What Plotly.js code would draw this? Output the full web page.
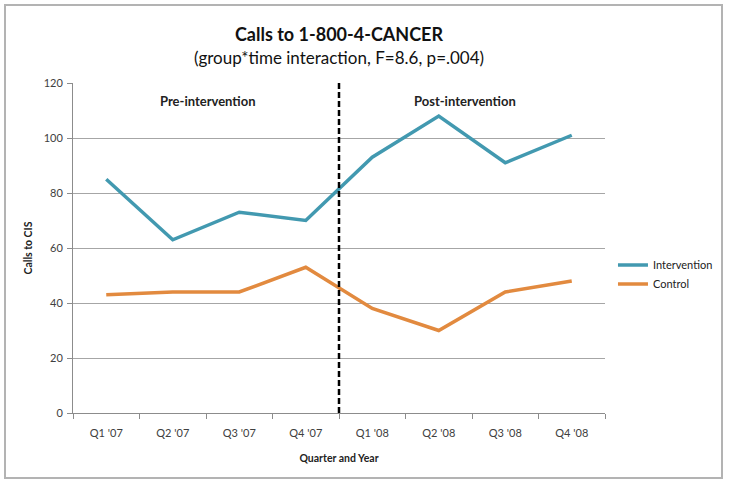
<!DOCTYPE html>
<html>
<head>
<meta charset="utf-8">
<script src="https://cdn.plot.ly/plotly-3.0.1.min.js"></script>
<style>
  html, body { margin: 0; padding: 0; background: #fff; }
  #chart { width: 729px; height: 484px; }
</style>
</head>
<body>
<div id="chart"></div>
<script>
const categories = ["Q1 '07", "Q2 '07", "Q3 '07", "Q4 '07", "Q1 '08", "Q2 '08", "Q3 '08", "Q4 '08"];
const intervention = [85, 63, 73, 70, 93, 108, 91, 101];
const control = [43, 44, 44, 53, 38, 30, 44, 48];
const yTicks = [0, 20, 40, 60, 80, 100, 120];

const FONT = "Lato, 'Open Sans', sans-serif";

const traces = [
  { x: categories, y: intervention, name: "Intervention", type: "scatter", mode: "lines",
    line: { color: "#4299b0", width: 3.5 } },
  { x: categories, y: control, name: "Control", type: "scatter", mode: "lines",
    line: { color: "#e28a3f", width: 3.5 } }
];

const layout = {
  width: 729, height: 484,
  margin: { l: 73, r: 124, t: 83, b: 71, autoexpand: false },
  paper_bgcolor: "#ffffff", plot_bgcolor: "#ffffff",
  font: { family: FONT, color: "#333333", size: 11 },
  title: {
    text: "<b>Calls to 1-800-4-CANCER</b><br><span style='font-size:17px'>(group*time interaction, F=8.6, p=.004)</span>",
    font: { family: FONT, size: 18, color: "#111111" },
    x: 0.5, xref: "paper", xanchor: "center",
    y: 0.916, yref: "container", yanchor: "middle"
  },
  xaxis: {
    type: "category",
    range: [-0.5, 7.5],
    showgrid: false,
    showline: true, linecolor: "#8c8c8c", linewidth: 1,
    ticks: "outside", ticklen: 5, tickcolor: "#8c8c8c", tickson: "boundaries",
    ticklabelstandoff: 10,
    tickfont: { family: FONT, size: 11, color: "#404040" },
    title: { text: "<b>Quarter and Year</b>", font: { family: FONT, size: 10.5, color: "#222" }, standoff: 16 },
    zeroline: false, fixedrange: true, automargin: false
  },
  yaxis: {
    range: [0, 120],
    tickvals: yTicks,
    showgrid: true, gridcolor: "#a6a6a6", gridwidth: 1,
    showline: true, linecolor: "#8c8c8c", linewidth: 1,
    ticks: "outside", ticklen: 5, tickcolor: "#8c8c8c",
    ticklabelstandoff: 2,
    tickfont: { family: FONT, size: 11, color: "#404040" },
    title: { text: "<b>Calls to CIS</b>", font: { family: FONT, size: 10.5, color: "#222" }, standoff: 8 },
    zeroline: false, fixedrange: true, automargin: false
  },
  legend: {
    x: 1.015, xanchor: "left", y: 0.42, yanchor: "middle",
    font: { family: FONT, size: 11, color: "#222" },
    bgcolor: "rgba(0,0,0,0)", itemwidth: 30, tracegroupgap: 0
  },
  showlegend: true,
  shapes: [
    { type: "line", xref: "x", yref: "paper", x0: 3.5, x1: 3.5, y0: 0, y1: 1,
      line: { color: "#000000", width: 2.5, dash: "6px,3px" } },
    { type: "rect", xref: "paper", yref: "paper",
      x0: -68/532, x1: 649/532, y0: -65/330, y1: 408/330,
      line: { color: "#b3b3b3", width: 2 }, fillcolor: "rgba(0,0,0,0)", layer: "below" }
  ],
  annotations: [
    { x: 1.53, y: 113.5, xref: "x", yref: "y", text: "<b>Pre-intervention</b>", showarrow: false,
      font: { family: FONT, size: 13, color: "#222" } },
    { x: 5.39, y: 113.5, xref: "x", yref: "y", text: "<b>Post-intervention</b>", showarrow: false,
      font: { family: FONT, size: 13, color: "#222" } }
  ]
};

Plotly.newPlot("chart", traces, layout, { displayModeBar: false, staticPlot: true });
</script>
</body>
</html>
